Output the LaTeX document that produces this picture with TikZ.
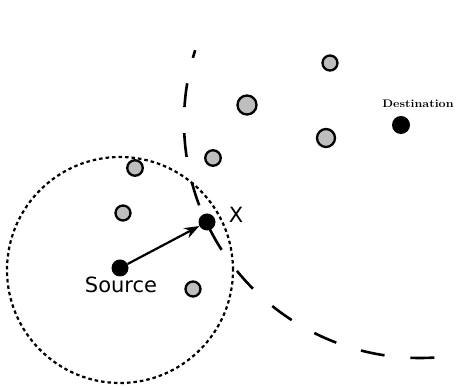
\documentclass[tikz,border=0pt]{standalone}
\usepackage{fontspec}
\newfontfamily\labelfont{DejaVu Sans}
\usetikzlibrary{arrows.meta}
\begin{document}
\begin{tikzpicture}[x=1pt,y=1pt,
  blackdot/.style={circle,fill=black,draw=none,inner sep=0pt,minimum size=#1},
  graydot/.style={circle,fill=graynode,draw=black,line width=2.3pt,inner sep=0pt,minimum size=#1},
  lbl/.style={font=\labelfont\fontsize{21}{24}\selectfont,inner sep=0pt}]
\definecolor{graynode}{RGB}{190,190,190}
\useasboundingbox (0,0) rectangle (458,387);
% range circles
\draw[line width=2.2pt,dash pattern=on 3.5pt off 3pt] (120,117) circle[radius=113];
\draw[line width=2.6pt,dash pattern=on 24pt off 26pt,dash phase=16pt]
  ([shift={(162.3:236)}]420,265) arc[start angle=162.3,end angle=274,radius=236];
% nodes
\node[blackdot=17pt] (src) at (120,119) {};
\node[blackdot=17pt] (xn) at (207,165) {};
\node[blackdot=18pt] (dest) at (401,262) {};
\node[graydot=15pt] (g1) at (330,324) {};
\node[graydot=19pt] (g2) at (247,282) {};
\node[graydot=18pt] (g3) at (326,249) {};
\node[graydot=15.5pt] (g4) at (213,229) {};
\node[graydot=15.5pt] (g5) at (135,219) {};
\node[graydot=15pt] (g6) at (123,174) {};
\node[graydot=15pt] (g7) at (193,98) {};
% labels
\node[lbl,anchor=base] (srclbl) at (121,94) {Source};
\node[lbl,anchor=base] (xlbl) at (236,164) {X};
\node[inner sep=0pt,anchor=base,font=\bfseries\fontsize{11}{13}\selectfont] (destlbl) at (418,279) {\scalebox{1.14}[1]{Destination}};
% arrow
\draw[line width=2.2pt,-{Stealth[length=15pt,width=11pt]}] (src) -- (xn);
\end{tikzpicture}
\end{document}
